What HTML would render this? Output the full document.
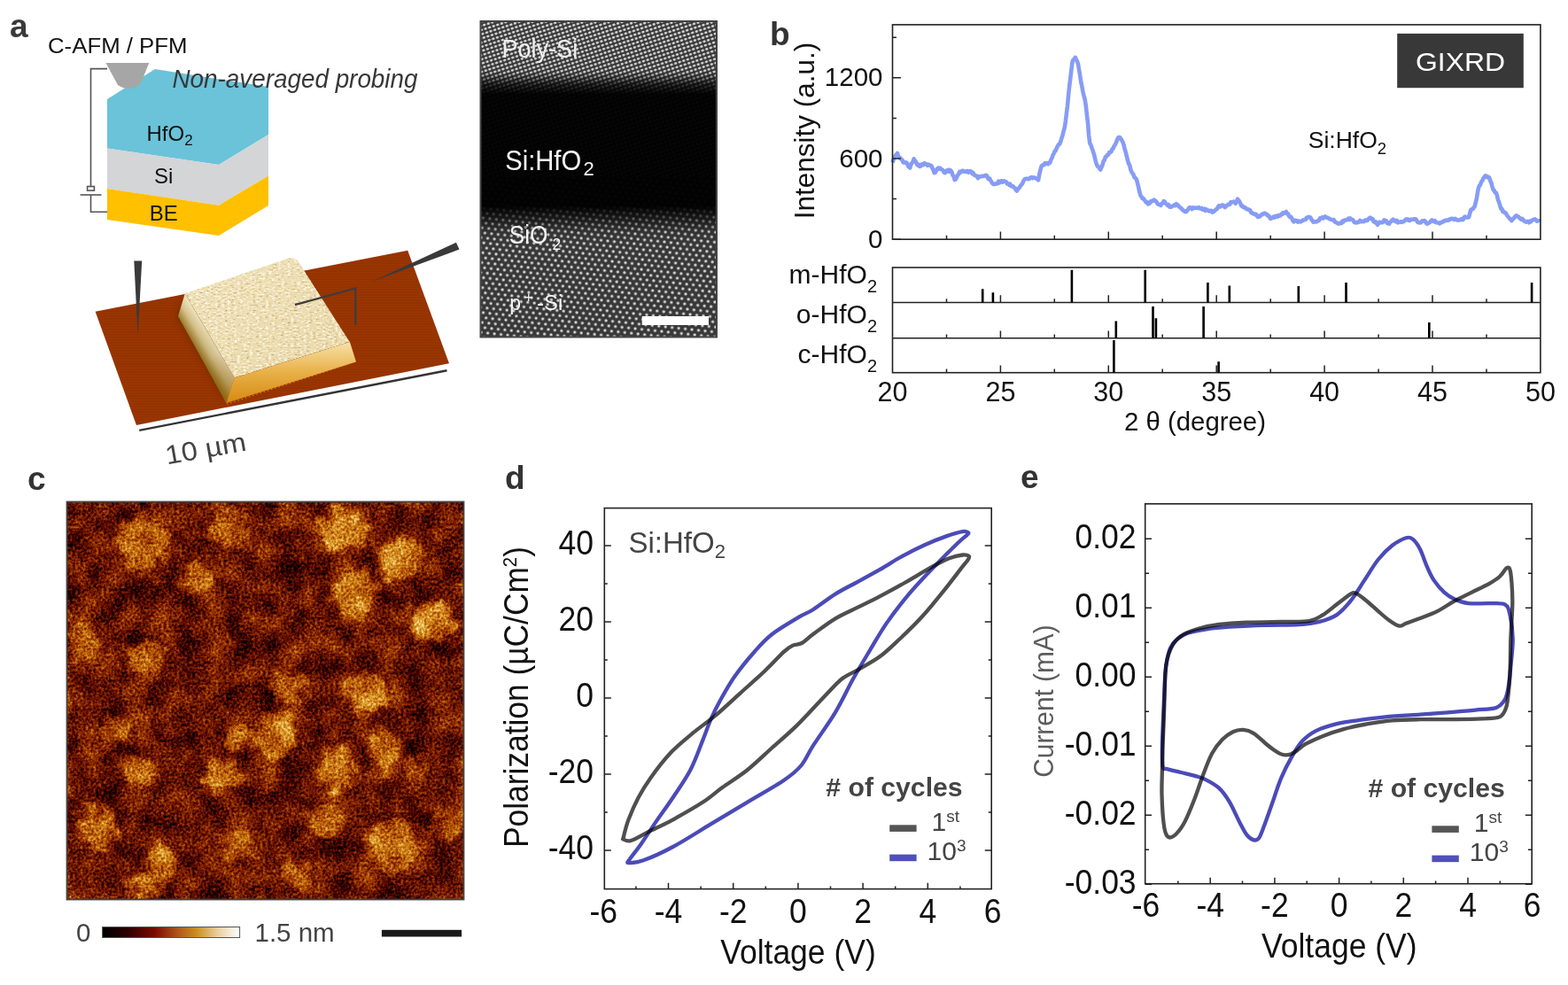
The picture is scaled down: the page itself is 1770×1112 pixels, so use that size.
<!DOCTYPE html>
<html><head><meta charset="utf-8"><title>Figure</title>
<style>
html,body{margin:0;padding:0;background:#fff;}
body{width:1770px;height:1112px;overflow:hidden;}
svg{display:block;}
text{font-family:"Liberation Sans", Arial, Helvetica, sans-serif;}
</style></head><body>
<svg width="1770" height="1112" viewBox="0 0 1770 1112">

<defs>
<filter id="blur2" x="-20%" y="-20%" width="140%" height="140%"><feGaussianBlur stdDeviation="3"/></filter>
<pattern id="brownTex" patternUnits="userSpaceOnUse" width="6" height="3">
  <rect width="6" height="3" fill="#953300"/>
  <rect y="1" width="6" height="1" fill="#9c3904" opacity="0.6"/>
</pattern>
<linearGradient id="leftFace" gradientUnits="userSpaceOnUse" x1="236.6" y1="378.8" x2="219.3" y2="388.9">
  <stop offset="0" stop-color="#f1e5c2"/><stop offset="0.5" stop-color="#d8c48e"/><stop offset="1" stop-color="#9c7a2a"/>
</linearGradient>
<linearGradient id="leftShade" gradientUnits="userSpaceOnUse" x1="205" y1="344" x2="258" y2="452">
  <stop offset="0" stop-color="#6a4a00" stop-opacity="0"/><stop offset="0.55" stop-color="#6a4a00" stop-opacity="0.12"/><stop offset="1" stop-color="#8a5a00" stop-opacity="0.55"/>
</linearGradient>
<linearGradient id="frontFace" x1="0" y1="0" x2="0" y2="1">
  <stop offset="0" stop-color="#f6e2a8"/><stop offset="0.5" stop-color="#e8b048"/><stop offset="1" stop-color="#d68a10"/>
</linearGradient>
<filter id="topF" x="0" y="0" width="100%" height="100%" color-interpolation-filters="sRGB">
  <feTurbulence type="fractalNoise" baseFrequency="0.28 0.5" numOctaves="2" seed="11" result="n"/>
  <feColorMatrix in="n" type="matrix" values="0 0 0 0 1  0 0 0 0 0.98  0 0 0 0 0.93  4 0 0 0 -2.1" result="lt"/>
  <feColorMatrix in="n" type="matrix" values="0 0 0 0 0.72  0 0 0 0 0.6  0 0 0 0 0.4  -4 0 0 0 1.5" result="dk"/>
  <feMerge result="m"><feMergeNode in="SourceGraphic"/><feMergeNode in="lt"/><feMergeNode in="dk"/></feMerge>
  <feComposite in="m" in2="SourceGraphic" operator="in"/>
</filter>
<linearGradient id="topTex" x1="0" y1="0" x2="1" y2="1">
  <stop offset="0" stop-color="#efe1b8"/><stop offset="1" stop-color="#e9d8a8"/>
</linearGradient>
<pattern id="latPoly" patternUnits="userSpaceOnUse" width="4.8" height="4.5" patternTransform="rotate(-18)">
  <rect width="4.8" height="4.5" fill="#383838"/>
  <ellipse cx="2.4" cy="2.25" rx="1.75" ry="1.25" fill="#dedede"/>
</pattern>
<pattern id="latSi" patternUnits="userSpaceOnUse" width="7.5" height="11.2" patternTransform="rotate(6)">
  <rect width="7.5" height="11.2" fill="#383838"/>
  <circle cx="1.9" cy="2.8" r="1.65" fill="#d8d8d8"/>
  <circle cx="5.65" cy="8.4" r="1.65" fill="#d8d8d8"/>
</pattern>
<linearGradient id="temBand" x1="0" y1="0" x2="0" y2="1">
  <stop offset="0" stop-color="#000" stop-opacity="0"/>
  <stop offset="0.16" stop-color="#000" stop-opacity="0.05"/>
  <stop offset="0.2" stop-color="#000" stop-opacity="0.75"/>
  <stop offset="0.23" stop-color="#000" stop-opacity="0.97"/>
  <stop offset="0.585" stop-color="#000" stop-opacity="0.97"/>
  <stop offset="0.625" stop-color="#000" stop-opacity="0.55"/>
  <stop offset="0.665" stop-color="#000" stop-opacity="0.1"/>
  <stop offset="0.7" stop-color="#000" stop-opacity="0"/>
  <stop offset="1" stop-color="#000" stop-opacity="0"/>
</linearGradient>
<clipPath id="afmClip"><rect x="76" y="567" width="447" height="448"/></clipPath>
<filter id="afmF" filterUnits="userSpaceOnUse" x="76" y="567" width="447" height="448" color-interpolation-filters="sRGB">
  <feGaussianBlur in="SourceGraphic" stdDeviation="3.5" result="patch0"/>
  <feTurbulence type="fractalNoise" baseFrequency="0.06" numOctaves="2" seed="21" result="dn"/>
  <feDisplacementMap in="patch0" in2="dn" scale="28" xChannelSelector="R" yChannelSelector="G" result="patch"/>
  <feTurbulence type="fractalNoise" baseFrequency="0.34" numOctaves="2" seed="4" result="n1"/>
  <feColorMatrix in="n1" type="matrix" values="1 0 0 0 0  1 0 0 0 0  1 0 0 0 0  0 0 0 0 1" result="g1"/>
  <feTurbulence type="fractalNoise" baseFrequency="0.035" numOctaves="2" seed="9" result="n2"/>
  <feColorMatrix in="n2" type="matrix" values="1 0 0 0 0  1 0 0 0 0  1 0 0 0 0  0 0 0 0 1" result="g2"/>
  <feComposite in="patch" in2="g1" operator="arithmetic" k1="0" k2="0.32" k3="0.68" k4="-0.09" result="h1"/>
  <feComposite in="h1" in2="g2" operator="arithmetic" k1="0" k2="1" k3="0.5" k4="-0.25" result="h"/>
  <feComponentTransfer in="h">
    <feFuncR type="table" tableValues="0.000 0.157 0.333 0.478 0.608 0.729 0.824 0.894 0.949 0.980 1.000"/>
    <feFuncG type="table" tableValues="0.000 0.000 0.031 0.118 0.227 0.376 0.533 0.690 0.824 0.933 1.000"/>
    <feFuncB type="table" tableValues="0.000 0.000 0.000 0.000 0.000 0.031 0.110 0.267 0.510 0.784 1.000"/>
    <feFuncA type="linear" slope="0" intercept="1"/>
  </feComponentTransfer>
</filter>
<linearGradient id="cbar" x1="0" y1="0" x2="1" y2="0">
  <stop offset="0" stop-color="#000"/><stop offset="0.18" stop-color="#2a0000"/><stop offset="0.38" stop-color="#7a0a00"/>
  <stop offset="0.55" stop-color="#b0561a"/><stop offset="0.68" stop-color="#c88e1c"/><stop offset="0.84" stop-color="#e8cf9e"/><stop offset="1" stop-color="#fff"/>
</linearGradient>
</defs>

<rect width="1770" height="1112" fill="#fff"/>
<text x="11" y="41.5" font-size="37" font-weight="bold" fill="#3a3a3a">a</text>
<text x="54" y="60.4" font-size="23.5" fill="#111" textLength="157.5" lengthAdjust="spacingAndGlyphs">C-AFM / PFM</text>
<polygon points="121,112 175,78 303,98 303,152 247,186 121,167.5" fill="#6AC3D9"/>
<polygon points="121,167.5 247,186 303,152 303,198.5 247,231.7 121,213" fill="#D3D5D6"/>
<polygon points="121,213 247,231.7 303,198.5 303,232 247,266 121,248" fill="#FFC000"/>
<path d="M119.5,71 L168.3,71 L159,94 Q146,105 133,96 Z" fill="#A6A6A6"/>
<g stroke="#555" stroke-width="1.6" fill="none"><polyline points="121,77.6 102.5,77.6 102.5,210.5"/><rect x="98.6" y="210.5" width="7.8" height="4.6"/><line x1="90.6" y1="220" x2="114.5" y2="220"/><polyline points="102.5,220 102.5,239.3 121,239.3"/></g>
<text x="165.5" y="158.8" font-size="24" fill="#111">HfO<tspan font-size="17" dy="5">2</tspan></text>
<text x="174" y="207" font-size="24" fill="#111">Si</text>
<text x="168.7" y="249.3" font-size="24" fill="#111">BE</text>
<text x="194.5" y="98.6" font-size="30" font-style="italic" fill="#383838" textLength="277" lengthAdjust="spacingAndGlyphs">Non-averaged probing</text>
<polygon points="107.6,351.8 460.2,282.7 507,410.3 154,479.9" fill="url(#brownTex)"/>
<polygon points="197,357 208.8,331.2 264.5,426.5 252,452" fill="#6a2a00" opacity="0.5" filter="url(#blur2)"/>
<polygon points="208.8,331.2 264.5,426.5 255.5,455 201,357" fill="url(#leftFace)"/>
<polygon points="208.8,331.2 264.5,426.5 255.5,455 201,357" fill="url(#leftShade)"/>
<polygon points="264.5,426.5 394.9,386 402,408.5 255.5,455" fill="url(#frontFace)"/>
<path d="M208.8,331.2 L325,291.5 Q332,289.5 336,294 L394.9,386 L264.5,426.5 Z" fill="url(#topTex)" filter="url(#topF)"/>
<line x1="256" y1="456.2" x2="401" y2="408.6" stroke="#f08a20" stroke-width="1.2" stroke-dasharray="1.2 3.2"/>
<line x1="157.2" y1="485.9" x2="504.5" y2="418.2" stroke="#333" stroke-width="2.4"/>
<polygon points="151.3,294.6 160.2,294.6 155.6,379.3" fill="#3a3a3a"/>
<polygon points="514.9,273.7 518.5,281.6 420.7,317.5" fill="#3a3a3a"/>
<polyline points="333,344.1 401.3,325.5 401.3,366.4" fill="none" stroke="#3d3d3d" stroke-width="2.2"/>
<text x="188.5" y="524.5" font-size="30" fill="#444" transform="rotate(-10 188.5 524.5)" textLength="92" lengthAdjust="spacingAndGlyphs">10 µm</text>
<rect x="542" y="24" width="267" height="357" fill="url(#latPoly)"/>
<rect x="542" y="200" width="267" height="181" fill="url(#latSi)"/>
<rect x="542" y="24" width="267" height="357" fill="url(#temBand)"/>
<rect x="542.5" y="24" width="266.5" height="356.5" fill="none" stroke="#444" stroke-width="2"/>
<text x="566.4" y="65.3" font-size="29" fill="#eee" textLength="85.8" lengthAdjust="spacingAndGlyphs">Poly-Si</text>
<text x="570.2" y="191.5" font-size="32" fill="#f6f6f6" textLength="86" lengthAdjust="spacingAndGlyphs">Si:HfO</text>
<text x="658.4" y="198.3" font-size="22" fill="#f6f6f6">2</text>
<text x="574.7" y="274.7" font-size="29" fill="#f6f6f6" textLength="43.7" lengthAdjust="spacingAndGlyphs">SiO</text>
<text x="623.6" y="281.7" font-size="17.5" fill="#f6f6f6">2</text>
<text x="575.3" y="350.3" font-size="23" fill="#f6f6f6">p</text>
<text x="591.8" y="340.5" font-size="17" fill="#f6f6f6">+</text>
<text x="606" y="350.3" font-size="23" fill="#f6f6f6" textLength="29.2" lengthAdjust="spacingAndGlyphs">-Si</text>
<rect x="724.7" y="357" width="75.3" height="10" fill="#fff"/>
<text x="869" y="51" font-size="37" font-weight="bold" fill="#333">b</text>
<path d="M1007.5,183.6 L1008.6,180.5 L1009.7,177.5 L1010.8,175.5 L1011.9,174.6 L1013.0,172.9 L1014.1,176.5 L1015.2,177.5 L1016.3,178.3 L1017.4,180.0 L1018.5,180.5 L1019.6,183.3 L1020.7,183.0 L1021.8,183.7 L1022.9,183.4 L1024.0,184.4 L1025.1,187.4 L1026.2,188.7 L1027.2,189.5 L1028.3,185.8 L1029.4,183.9 L1030.5,182.9 L1031.6,179.3 L1032.7,181.6 L1033.8,182.4 L1034.9,185.2 L1036.0,186.5 L1037.1,185.8 L1038.2,187.9 L1039.3,187.5 L1040.4,185.4 L1041.5,185.2 L1042.6,186.1 L1043.7,184.2 L1044.8,185.3 L1045.9,185.4 L1047.0,186.8 L1048.1,185.6 L1049.2,186.6 L1050.3,186.6 L1051.4,187.2 L1052.5,189.7 L1053.6,192.1 L1054.7,195.1 L1055.8,194.6 L1056.9,192.5 L1058.0,190.6 L1059.1,189.6 L1060.2,190.7 L1061.3,189.7 L1062.4,190.9 L1063.5,191.5 L1064.5,192.1 L1065.6,194.7 L1066.7,195.1 L1067.8,193.9 L1068.9,192.5 L1070.0,193.4 L1071.1,191.6 L1072.2,193.8 L1073.3,192.5 L1074.4,194.2 L1075.5,197.8 L1076.6,199.1 L1077.7,203.1 L1078.8,202.3 L1079.9,200.4 L1081.0,197.9 L1082.1,196.6 L1083.2,193.9 L1084.3,194.7 L1085.4,193.4 L1086.5,192.9 L1087.6,192.8 L1088.7,193.9 L1089.8,193.8 L1090.9,193.4 L1092.0,193.0 L1093.1,194.6 L1094.2,193.3 L1095.3,193.3 L1096.4,193.6 L1097.5,196.2 L1098.6,195.1 L1099.7,197.7 L1100.8,198.1 L1101.9,198.5 L1102.9,198.9 L1104.0,201.1 L1105.1,199.2 L1106.2,199.4 L1107.3,199.2 L1108.4,198.9 L1109.5,198.9 L1110.6,198.8 L1111.7,198.4 L1112.8,197.8 L1113.9,198.1 L1115.0,200.9 L1116.1,202.2 L1117.2,201.6 L1118.3,203.9 L1119.4,205.6 L1120.5,207.3 L1121.6,208.0 L1122.7,207.7 L1123.8,207.8 L1124.9,207.1 L1126.0,207.2 L1127.1,204.7 L1128.2,206.3 L1129.3,205.1 L1130.4,204.2 L1131.5,205.7 L1132.6,204.6 L1133.7,204.3 L1134.8,205.1 L1135.9,205.3 L1137.0,207.4 L1138.1,207.4 L1139.2,208.7 L1140.2,207.8 L1141.3,209.9 L1142.4,210.5 L1143.5,210.2 L1144.6,211.5 L1145.7,212.3 L1146.8,214.5 L1147.9,215.5 L1149.0,213.4 L1150.1,212.3 L1151.2,211.1 L1152.3,209.2 L1153.4,208.3 L1154.5,206.5 L1155.6,203.8 L1156.7,202.5 L1157.8,201.8 L1158.9,201.8 L1160.0,201.9 L1161.1,202.2 L1162.2,201.5 L1163.3,200.4 L1164.4,200.1 L1165.5,201.1 L1166.6,200.3 L1167.7,200.6 L1168.8,201.1 L1169.9,201.6 L1171.0,201.9 L1172.1,203.3 L1173.2,197.1 L1174.3,192.5 L1175.4,188.2 L1176.5,186.7 L1177.6,186.1 L1178.6,186.1 L1179.7,184.1 L1180.8,184.4 L1181.9,184.4 L1183.0,185.3 L1184.1,183.9 L1185.2,183.8 L1186.3,180.5 L1187.4,178.5 L1188.5,175.3 L1189.6,173.2 L1190.7,170.7 L1191.8,169.7 L1192.9,167.0 L1194.0,164.8 L1195.1,163.1 L1196.2,162.7 L1197.3,159.9 L1198.4,156.0 L1199.5,152.6 L1200.6,148.2 L1201.7,144.4 L1202.8,137.1 L1203.9,128.2 L1205.0,119.5 L1206.1,107.6 L1207.2,97.0 L1208.3,88.1 L1209.4,78.8 L1210.5,69.9 L1211.6,67.4 L1212.7,67.0 L1213.8,64.8 L1214.9,67.3 L1215.9,69.1 L1217.0,72.2 L1218.1,78.8 L1219.2,85.5 L1220.3,92.8 L1221.4,97.8 L1222.5,104.0 L1223.6,108.4 L1224.7,112.4 L1225.8,119.4 L1226.9,129.8 L1228.0,138.8 L1229.1,152.8 L1230.2,161.7 L1231.3,163.5 L1232.4,166.7 L1233.5,169.8 L1234.6,173.2 L1235.7,177.2 L1236.8,181.8 L1237.9,185.5 L1239.0,187.6 L1240.1,188.4 L1241.2,190.3 L1242.3,191.5 L1243.4,188.6 L1244.5,186.4 L1245.6,182.0 L1246.7,181.0 L1247.8,177.4 L1248.9,176.5 L1250.0,175.1 L1251.1,174.6 L1252.2,172.0 L1253.3,171.8 L1254.3,171.4 L1255.4,168.5 L1256.5,167.8 L1257.6,165.0 L1258.7,163.5 L1259.8,161.1 L1260.9,158.5 L1262.0,155.8 L1263.1,154.9 L1264.2,155.2 L1265.3,156.8 L1266.4,158.5 L1267.5,160.5 L1268.6,163.9 L1269.7,168.4 L1270.8,172.0 L1271.9,176.4 L1273.0,181.2 L1274.1,184.8 L1275.2,186.6 L1276.3,191.4 L1277.4,194.1 L1278.5,195.7 L1279.6,197.5 L1280.7,200.3 L1281.8,201.1 L1282.9,202.4 L1284.0,206.5 L1285.1,210.9 L1286.2,215.9 L1287.3,220.3 L1288.4,221.8 L1289.5,224.1 L1290.6,223.9 L1291.6,225.1 L1292.7,226.9 L1293.8,228.6 L1294.9,228.2 L1296.0,230.3 L1297.1,229.8 L1298.2,229.2 L1299.3,227.0 L1300.4,227.2 L1301.5,226.8 L1302.6,225.6 L1303.7,226.5 L1304.8,226.9 L1305.9,228.7 L1307.0,230.5 L1308.1,231.0 L1309.2,231.0 L1310.3,231.8 L1311.4,229.9 L1312.5,229.5 L1313.6,227.2 L1314.7,227.5 L1315.8,229.6 L1316.9,230.6 L1318.0,231.8 L1319.1,231.0 L1320.2,233.5 L1321.3,233.8 L1322.4,233.5 L1323.5,232.6 L1324.6,232.2 L1325.7,231.3 L1326.8,232.1 L1327.9,230.2 L1329.0,231.2 L1330.0,231.8 L1331.1,233.3 L1332.2,234.4 L1333.3,235.0 L1334.4,236.3 L1335.5,237.6 L1336.6,237.9 L1337.7,239.1 L1338.8,239.3 L1339.9,238.0 L1341.0,236.6 L1342.1,234.8 L1343.2,234.1 L1344.3,234.8 L1345.4,236.0 L1346.5,234.3 L1347.6,235.1 L1348.7,234.8 L1349.8,234.5 L1350.9,234.7 L1352.0,235.0 L1353.1,234.1 L1354.2,235.3 L1355.3,235.6 L1356.4,234.9 L1357.5,236.6 L1358.6,236.7 L1359.7,235.8 L1360.8,237.8 L1361.9,236.4 L1363.0,237.0 L1364.1,237.9 L1365.2,238.5 L1366.3,237.7 L1367.3,237.7 L1368.4,239.7 L1369.5,239.3 L1370.6,238.5 L1371.7,237.4 L1372.8,236.5 L1373.9,235.6 L1375.0,233.5 L1376.1,232.2 L1377.2,233.5 L1378.3,233.0 L1379.4,231.5 L1380.5,231.6 L1381.6,232.3 L1382.7,234.1 L1383.8,233.0 L1384.9,232.2 L1386.0,231.1 L1387.1,230.6 L1388.2,230.9 L1389.3,228.2 L1390.4,228.6 L1391.5,228.0 L1392.6,227.6 L1393.7,228.4 L1394.8,229.7 L1395.9,227.7 L1397.0,224.7 L1398.1,226.3 L1399.2,227.4 L1400.3,229.9 L1401.4,232.5 L1402.5,232.3 L1403.6,234.0 L1404.7,234.4 L1405.7,234.4 L1406.8,235.6 L1407.9,236.4 L1409.0,236.3 L1410.1,236.8 L1411.2,237.5 L1412.3,240.0 L1413.4,240.3 L1414.5,241.3 L1415.6,241.3 L1416.7,242.1 L1417.8,241.8 L1418.9,243.6 L1420.0,244.9 L1421.1,243.8 L1422.2,244.4 L1423.3,242.8 L1424.4,242.6 L1425.5,241.2 L1426.6,241.4 L1427.7,240.7 L1428.8,241.3 L1429.9,241.8 L1431.0,243.5 L1432.1,243.6 L1433.2,245.2 L1434.3,246.9 L1435.4,246.4 L1436.5,245.7 L1437.6,244.6 L1438.7,245.5 L1439.8,244.0 L1440.9,243.8 L1442.0,244.6 L1443.0,243.1 L1444.1,243.8 L1445.2,243.3 L1446.3,241.8 L1447.4,242.0 L1448.5,240.2 L1449.6,240.5 L1450.7,240.4 L1451.8,238.9 L1452.9,241.3 L1454.0,241.2 L1455.1,244.0 L1456.2,245.2 L1457.3,244.9 L1458.4,246.8 L1459.5,249.2 L1460.6,250.4 L1461.7,248.6 L1462.8,249.3 L1463.9,249.1 L1465.0,250.6 L1466.1,249.6 L1467.2,250.2 L1468.3,250.4 L1469.4,249.7 L1470.5,248.5 L1471.6,248.6 L1472.7,248.0 L1473.8,248.0 L1474.9,245.9 L1476.0,245.8 L1477.1,244.9 L1478.2,245.2 L1479.3,245.5 L1480.4,247.7 L1481.4,249.0 L1482.5,250.6 L1483.6,250.3 L1484.7,250.4 L1485.8,250.4 L1486.9,250.0 L1488.0,249.0 L1489.1,248.7 L1490.2,246.3 L1491.3,246.6 L1492.4,245.4 L1493.5,246.4 L1494.6,245.1 L1495.7,244.4 L1496.8,245.2 L1497.9,245.8 L1499.0,245.9 L1500.1,246.9 L1501.2,247.1 L1502.3,247.7 L1503.4,247.9 L1504.5,248.5 L1505.6,248.1 L1506.7,250.3 L1507.8,250.8 L1508.9,251.4 L1510.0,252.3 L1511.1,252.6 L1512.2,252.4 L1513.3,251.4 L1514.4,251.9 L1515.5,249.6 L1516.6,250.3 L1517.7,248.6 L1518.7,248.7 L1519.8,248.3 L1520.9,248.2 L1522.0,246.8 L1523.1,248.1 L1524.2,246.4 L1525.3,247.7 L1526.4,247.8 L1527.5,248.6 L1528.6,250.8 L1529.7,251.2 L1530.8,251.5 L1531.9,250.9 L1533.0,251.1 L1534.1,250.3 L1535.2,249.0 L1536.3,250.2 L1537.4,250.2 L1538.5,249.8 L1539.6,250.1 L1540.7,248.9 L1541.8,248.4 L1542.9,249.1 L1544.0,248.3 L1545.1,246.9 L1546.2,245.8 L1547.3,245.9 L1548.4,247.3 L1549.5,247.1 L1550.6,250.1 L1551.7,250.9 L1552.8,250.3 L1553.9,252.0 L1555.0,253.7 L1556.1,252.3 L1557.1,250.8 L1558.2,251.3 L1559.3,251.1 L1560.4,251.1 L1561.5,250.6 L1562.6,248.3 L1563.7,249.4 L1564.8,249.3 L1565.9,252.0 L1567.0,252.4 L1568.1,252.6 L1569.2,250.6 L1570.3,250.2 L1571.4,248.6 L1572.5,247.7 L1573.6,248.5 L1574.7,249.7 L1575.8,250.3 L1576.9,249.0 L1578.0,251.3 L1579.1,250.9 L1580.2,250.8 L1581.3,250.2 L1582.4,250.8 L1583.5,250.0 L1584.6,250.1 L1585.7,248.9 L1586.8,247.7 L1587.9,248.2 L1589.0,247.5 L1590.1,248.8 L1591.2,249.1 L1592.3,247.9 L1593.4,247.9 L1594.4,247.6 L1595.5,247.9 L1596.6,247.2 L1597.7,247.2 L1598.8,248.0 L1599.9,250.4 L1601.0,251.3 L1602.1,251.2 L1603.2,251.5 L1604.3,250.8 L1605.4,249.4 L1606.5,249.7 L1607.6,249.0 L1608.7,249.7 L1609.8,251.6 L1610.9,252.7 L1612.0,252.4 L1613.1,251.3 L1614.2,250.9 L1615.3,249.4 L1616.4,248.4 L1617.5,249.4 L1618.6,250.2 L1619.7,249.3 L1620.8,251.1 L1621.9,251.2 L1623.0,251.4 L1624.1,251.6 L1625.2,252.4 L1626.3,251.4 L1627.4,251.3 L1628.5,250.0 L1629.6,250.1 L1630.7,249.0 L1631.7,249.2 L1632.8,248.6 L1633.9,248.7 L1635.0,248.7 L1636.1,247.6 L1637.2,247.6 L1638.3,246.7 L1639.4,246.9 L1640.5,247.0 L1641.6,248.0 L1642.7,246.9 L1643.8,247.8 L1644.9,248.4 L1646.0,248.6 L1647.1,248.4 L1648.2,248.3 L1649.3,247.4 L1650.4,248.3 L1651.5,248.1 L1652.6,245.4 L1653.7,244.6 L1654.8,245.4 L1655.9,245.5 L1657.0,245.5 L1658.1,245.1 L1659.2,240.8 L1660.3,237.0 L1661.4,236.3 L1662.5,236.0 L1663.6,234.4 L1664.7,233.0 L1665.8,228.4 L1666.9,224.0 L1668.0,217.0 L1669.1,211.8 L1670.1,209.5 L1671.2,208.4 L1672.3,205.0 L1673.4,203.8 L1674.5,201.0 L1675.6,200.0 L1676.7,198.4 L1677.8,198.7 L1678.9,200.2 L1680.0,199.8 L1681.1,200.5 L1682.2,203.8 L1683.3,206.2 L1684.4,210.4 L1685.5,214.0 L1686.6,215.0 L1687.7,217.2 L1688.8,217.7 L1689.9,220.5 L1691.0,225.7 L1692.1,228.1 L1693.2,231.8 L1694.3,235.5 L1695.4,235.8 L1696.5,238.9 L1697.6,238.9 L1698.7,240.2 L1699.8,240.5 L1700.9,242.7 L1702.0,244.3 L1703.1,245.5 L1704.2,247.0 L1705.3,247.5 L1706.4,249.2 L1707.4,247.3 L1708.5,247.0 L1709.6,245.3 L1710.7,244.3 L1711.8,243.3 L1712.9,244.2 L1714.0,244.7 L1715.1,245.8 L1716.2,246.8 L1717.3,247.9 L1718.4,247.0 L1719.5,248.2 L1720.6,249.7 L1721.7,250.0 L1722.8,250.7 L1723.9,249.9 L1725.0,250.1 L1726.1,251.3 L1727.2,249.6 L1728.3,250.1 L1729.4,248.8 L1730.5,248.0 L1731.6,248.0 L1732.7,247.3 L1733.8,248.5 L1734.9,249.7 L1736.0,249.0 L1737.1,249.2 L1738.2,250.4" fill="none" stroke="#879CF5" stroke-width="4.6" stroke-linejoin="round"/>
<rect x="1007.5" y="27.9" width="731.4" height="242.3" fill="none" stroke="#222" stroke-width="1.6"/>
<path d="M1007.5,270.2 h9.4 M1007.5,224.6 h4.4 M1007.5,179.0 h9.4 M1007.5,133.4 h4.4 M1007.5,87.8 h9.4 M1007.5,42.2 h4.4 M1068.5,270.2 v-4.4 M1129.4,270.2 v-8.6 M1190.3,270.2 v-4.4 M1251.3,270.2 v-8.6 M1312.2,270.2 v-4.4 M1373.2,270.2 v-8.6 M1434.2,270.2 v-4.4 M1495.1,270.2 v-8.6 M1556.1,270.2 v-4.4 M1617.0,270.2 v-8.6 M1678.0,270.2 v-4.4" stroke="#222" stroke-width="1.5" fill="none"/>
<text x="996.5" y="279.8" font-size="29.5" text-anchor="end" fill="#111">0</text>
<text x="996.5" y="188.6" font-size="29.5" text-anchor="end" fill="#111">600</text>
<text x="996.5" y="97.4" font-size="29.5" text-anchor="end" fill="#111">1200</text>
<text transform="translate(919,147.5) rotate(-90)" font-size="31.5" text-anchor="middle" fill="#111">Intensity (a.u.)</text>
<rect x="1577.2" y="37.9" width="142.6" height="61.3" fill="#383838"/>
<text x="1598" y="80.4" font-size="30" fill="#fff" textLength="101" lengthAdjust="spacingAndGlyphs">GIXRD</text>
<text x="1476.8" y="167.2" font-size="26.5" fill="#111">Si:HfO<tspan font-size="18.5" dy="7">2</tspan></text>
<rect x="1007.5" y="302.0" width="731.4" height="118.7" fill="none" stroke="#222" stroke-width="1.6"/>
<path d="M1007.5,341.5 H1738.9 M1007.5,381.7 H1738.9" stroke="#222" stroke-width="1.6"/>
<path d="M1068.5,341.5 v-4.3 M1129.4,341.5 v-8.3 M1190.3,341.5 v-4.3 M1251.3,341.5 v-8.3 M1312.2,341.5 v-4.3 M1373.2,341.5 v-8.3 M1434.2,341.5 v-4.3 M1495.1,341.5 v-8.3 M1556.1,341.5 v-4.3 M1617.0,341.5 v-8.3 M1678.0,341.5 v-4.3 M1068.5,381.7 v-4.3 M1129.4,381.7 v-8.3 M1190.3,381.7 v-4.3 M1251.3,381.7 v-8.3 M1312.2,381.7 v-4.3 M1373.2,381.7 v-8.3 M1434.2,381.7 v-4.3 M1495.1,381.7 v-8.3 M1556.1,381.7 v-4.3 M1617.0,381.7 v-8.3 M1678.0,381.7 v-4.3 M1068.5,420.7 v-4.3 M1129.4,420.7 v-8.3 M1190.3,420.7 v-4.3 M1251.3,420.7 v-8.3 M1312.2,420.7 v-4.3 M1373.2,420.7 v-8.3 M1434.2,420.7 v-4.3 M1495.1,420.7 v-8.3 M1556.1,420.7 v-4.3 M1617.0,420.7 v-8.3 M1678.0,420.7 v-4.3" stroke="#222" stroke-width="1.5" fill="none"/>
<path d="M1109.2,341.5 V326.3 M1120.9,341.5 V330.2 M1209.9,341.5 V304.7 M1292.7,341.5 V304.7 M1363.4,341.5 V319.0 M1387.8,341.5 V322.5 M1465.8,341.5 V323.0 M1519.5,341.5 V319.0 M1729.1,341.5 V319.0 M1259.8,381.7 V362.4 M1301.5,381.7 V345.9 M1304.9,381.7 V359.3 M1358.6,381.7 V345.9 M1613.3,381.7 V363.9 M1257.4,420.7 V384.0 M1375.6,420.7 V408.3" stroke="#000" stroke-width="2.6" fill="none"/>
<text x="990" y="320.1" font-size="30" text-anchor="end" fill="#111">m-HfO<tspan font-size="20" dy="10">2</tspan></text>
<text x="990" y="365.1" font-size="30" text-anchor="end" fill="#111">o-HfO<tspan font-size="20" dy="10">2</tspan></text>
<text x="990" y="409.6" font-size="30" text-anchor="end" fill="#111">c-HfO<tspan font-size="20" dy="10">2</tspan></text>
<text x="1007.5" y="452.8" font-size="30.5" text-anchor="middle" fill="#111">20</text>
<text x="1129.4" y="452.8" font-size="30.5" text-anchor="middle" fill="#111">25</text>
<text x="1251.3" y="452.8" font-size="30.5" text-anchor="middle" fill="#111">30</text>
<text x="1373.2" y="452.8" font-size="30.5" text-anchor="middle" fill="#111">35</text>
<text x="1495.1" y="452.8" font-size="30.5" text-anchor="middle" fill="#111">40</text>
<text x="1617.0" y="452.8" font-size="30.5" text-anchor="middle" fill="#111">45</text>
<text x="1738.9" y="452.8" font-size="30.5" text-anchor="middle" fill="#111">50</text>
<text x="1268.9" y="486.4" font-size="29.4" fill="#111">2 θ (degree)</text>
<text x="570" y="552" font-size="37" font-weight="bold" fill="#333">d</text>
<path d="M703.9,947.6 C705.3,948.3 707.6,950.4 712.3,949.0 C716.9,947.6 723.9,943.2 731.8,939.2 C739.7,935.2 749.5,930.9 759.7,925.3 C769.9,919.7 783.8,911.8 793.1,905.8 C802.4,899.8 807.0,895.1 815.4,889.1 C823.8,883.1 834.0,876.9 843.3,869.5 C852.6,862.1 861.9,852.9 871.2,844.5 C880.5,836.1 889.2,829.1 899.1,819.4 C909.0,809.7 921.8,795.4 930.4,786.5 C939.0,777.6 944.2,771.3 950.5,766.3 C956.8,761.3 961.1,760.5 968.2,756.3 C975.4,752.1 985.4,747.0 993.4,741.1 C1001.4,735.2 1008.0,728.5 1016.0,721.0 C1024.0,713.5 1032.8,705.0 1041.2,695.8 C1049.6,686.6 1059.3,674.4 1066.4,665.6 C1073.5,656.8 1079.6,648.6 1084.0,642.9 C1088.4,637.2 1091.3,634.1 1092.9,631.6 C1094.5,629.1 1094.6,628.6 1093.6,627.8 C1092.5,626.9 1090.3,626.1 1086.6,626.5 C1082.9,626.9 1077.4,628.0 1071.5,630.3 C1065.6,632.6 1059.7,635.8 1051.3,640.4 C1042.9,645.0 1030.8,652.5 1021.1,658.0 C1011.5,663.5 1002.2,668.5 993.4,673.1 C984.6,677.7 976.6,681.5 968.2,685.7 C959.8,689.9 951.4,693.2 943.0,698.3 C934.6,703.3 924.1,711.4 917.8,716.0 C911.5,720.6 909.0,723.9 905.2,726.0 C901.4,728.1 898.5,727.0 895.1,728.6 C891.8,730.2 890.5,730.8 885.1,735.7 C879.7,740.6 871.1,750.1 862.8,758.0 C854.4,765.9 844.3,774.7 835.0,783.1 C825.7,791.5 815.9,800.8 807.1,808.2 C798.3,815.6 790.4,820.7 782.0,827.7 C773.6,834.7 764.8,841.6 756.9,850.0 C749.0,858.4 740.6,869.5 734.6,877.9 C728.6,886.3 724.9,892.3 720.7,900.2 C716.5,908.1 712.3,917.9 709.5,925.3 C706.7,932.7 704.8,941.1 703.9,944.8 C703.0,948.5 702.5,946.9 703.9,947.6 Z" fill="none" stroke="#4F4F4F" stroke-width="4.3" stroke-linejoin="round"/>
<path d="M709.5,974.1 C712.0,974.3 717.8,974.3 726.2,971.3 C734.6,968.3 747.2,962.7 759.7,956.0 C772.2,949.3 787.6,939.3 801.5,930.9 C815.4,922.5 829.4,914.2 843.3,905.8 C857.2,897.4 874.9,887.7 885.1,880.7 C895.3,873.7 899.2,870.5 904.6,864.0 C910.0,857.5 911.4,851.9 917.8,841.9 C924.2,831.9 935.5,816.7 943.0,804.1 C950.5,791.5 956.8,777.6 963.1,766.3 C969.4,755.0 974.5,746.6 980.8,736.1 C987.1,725.6 993.4,714.3 1000.9,703.4 C1008.4,692.5 1016.9,681.5 1026.1,670.6 C1035.3,659.7 1047.1,647.5 1056.3,637.9 C1065.5,628.2 1075.6,618.4 1081.5,612.7 C1087.4,607.0 1089.7,605.8 1091.6,603.9 C1093.5,602.0 1093.7,601.9 1092.9,601.3 C1092.1,600.7 1090.6,599.5 1086.6,600.1 C1082.6,600.7 1076.1,602.6 1068.9,605.1 C1061.8,607.6 1052.1,611.4 1043.7,615.2 C1035.3,619.0 1027.0,623.2 1018.6,627.8 C1010.2,632.4 1001.8,638.1 993.4,642.9 C985.0,647.7 976.6,652.2 968.2,656.8 C959.8,661.4 951.4,665.4 943.0,670.6 C934.6,675.8 924.7,683.9 917.8,688.2 C910.9,692.6 909.6,692.0 901.8,696.7 C894.0,701.4 879.6,709.7 871.2,716.2 C862.9,722.7 858.7,727.8 851.7,735.7 C844.7,743.6 835.9,754.3 829.4,763.6 C822.9,772.9 817.0,783.6 812.6,791.5 C808.2,799.4 806.1,803.6 802.9,811.0 C799.6,818.4 797.0,826.4 793.1,836.1 C789.2,845.9 784.8,858.8 779.2,869.5 C773.6,880.2 766.2,890.4 759.7,900.2 C753.2,910.0 746.2,919.3 740.2,928.1 C734.2,936.9 728.3,946.2 723.4,953.2 C718.5,960.2 713.2,966.4 710.9,969.9 C708.6,973.4 707.0,973.9 709.5,974.1 Z" fill="none" stroke="#4B4BB8" stroke-width="4.3" stroke-linejoin="round" style="mix-blend-mode:multiply"/>
<rect x="682.3" y="573.6" width="436.9" height="430.0" fill="none" stroke="#222" stroke-width="1.6"/>
<path d="M682.3,959.9 h7.5 M1119.2,959.9 h-7.5 M682.3,916.9 h3.5 M1119.2,916.9 h-3.5 M682.3,873.9 h7.5 M1119.2,873.9 h-7.5 M682.3,830.9 h3.5 M1119.2,830.9 h-3.5 M682.3,787.9 h7.5 M1119.2,787.9 h-7.5 M682.3,744.9 h3.5 M1119.2,744.9 h-3.5 M682.3,701.9 h7.5 M1119.2,701.9 h-7.5 M682.3,658.9 h3.5 M1119.2,658.9 h-3.5 M682.3,615.9 h7.5 M1119.2,615.9 h-7.5 M717.9,1003.6 v-3.2 M754.5,1003.6 v-6.9 M791.1,1003.6 v-3.2 M827.7,1003.6 v-6.9 M864.3,1003.6 v-3.2 M900.9,1003.6 v-6.9 M937.5,1003.6 v-3.2 M974.1,1003.6 v-6.9 M1010.7,1003.6 v-3.2 M1047.3,1003.6 v-6.9 M1083.9,1003.6 v-3.2" stroke="#222" stroke-width="1.5" fill="none"/>
<text transform="translate(670.0,626.4) scale(1,1.070)" font-size="35.5" text-anchor="end" fill="#111">40</text>
<text transform="translate(670.0,712.4) scale(1,1.070)" font-size="35.5" text-anchor="end" fill="#111">20</text>
<text transform="translate(670.0,798.4) scale(1,1.070)" font-size="35.5" text-anchor="end" fill="#111">0</text>
<text transform="translate(670.0,884.4) scale(1,1.070)" font-size="35.5" text-anchor="end" fill="#111">-20</text>
<text transform="translate(670.0,970.4) scale(1,1.070)" font-size="35.5" text-anchor="end" fill="#111">-40</text>
<text transform="translate(681.3,1041.5) scale(1,1.070)" font-size="35.5" text-anchor="middle" fill="#111">-6</text>
<text transform="translate(754.5,1041.5) scale(1,1.070)" font-size="35.5" text-anchor="middle" fill="#111">-4</text>
<text transform="translate(827.7,1041.5) scale(1,1.070)" font-size="35.5" text-anchor="middle" fill="#111">-2</text>
<text transform="translate(900.9,1041.5) scale(1,1.070)" font-size="35.5" text-anchor="middle" fill="#111">0</text>
<text transform="translate(974.1,1041.5) scale(1,1.070)" font-size="35.5" text-anchor="middle" fill="#111">2</text>
<text transform="translate(1047.3,1041.5) scale(1,1.070)" font-size="35.5" text-anchor="middle" fill="#111">4</text>
<text transform="translate(1120.5,1041.5) scale(1,1.070)" font-size="35.5" text-anchor="middle" fill="#111">6</text>
<text transform="translate(813.2,1088.4) scale(1,1.100)" font-size="35.5" text-anchor="start" fill="#111">Voltage (V)</text>
<text transform="translate(596,957) rotate(-90)" font-size="38" fill="#111" textLength="340" lengthAdjust="spacingAndGlyphs">Polarization (µC/Cm<tspan font-size="22" dy="-13">2</tspan><tspan dy="13">)</tspan></text>
<text x="709.5" y="623.8" font-size="33" fill="#444">Si:HfO<tspan font-size="22" dy="6.6">2</tspan></text>
<text x="932.3" y="898.6" font-size="30" font-weight="bold" fill="#444" textLength="154.3" lengthAdjust="spacingAndGlyphs">#&#160;of cycles</text>
<rect x="1004.2" y="931.3" width="30.4" height="7.6" fill="#555"/>
<rect x="1004.2" y="964.6" width="30.4" height="7.6" fill="#5050B8"/>
<text x="1051.5" y="937.8" font-size="30" fill="#444">1<tspan font-size="19" dy="-10">st</tspan></text>
<text x="1046.6" y="970.5" font-size="30" fill="#444">10<tspan font-size="19" dy="-9.5">3</tspan></text>
<text x="1152" y="551" font-size="37" font-weight="bold" fill="#333">e</text>
<path d="M1311.9,870.0 C1312.1,860.3 1312.3,850.5 1312.7,838.8 C1313.1,827.0 1313.8,812.7 1314.2,799.6 C1314.7,786.6 1314.9,769.7 1315.4,760.5 C1315.9,751.4 1316.4,749.5 1317.4,744.9 C1318.4,740.3 1319.7,736.8 1321.3,733.2 C1322.9,729.6 1324.5,726.3 1327.2,723.4 C1329.8,720.5 1332.7,717.8 1336.9,715.6 C1341.2,713.3 1346.1,711.5 1352.6,709.7 C1359.1,707.9 1366.9,706.2 1376.0,705.0 C1385.2,703.8 1395.6,703.2 1407.3,702.7 C1419.1,702.1 1434.7,702.1 1446.4,701.9 C1458.2,701.6 1469.9,702.4 1477.7,701.1 C1485.5,699.8 1488.1,697.2 1493.4,694.1 C1498.6,690.9 1503.8,686.2 1509.0,682.3 C1514.2,678.4 1521.1,672.7 1524.6,670.6 C1528.2,668.5 1527.9,668.8 1530.5,669.8 C1533.1,670.8 1536.1,673.1 1540.3,676.5 C1544.5,679.8 1551.4,686.2 1555.9,690.1 C1560.5,694.1 1563.8,697.2 1567.7,699.9 C1571.6,702.7 1576.1,705.9 1579.4,706.6 C1582.7,707.2 1583.3,705.3 1587.2,703.8 C1591.1,702.4 1597.0,700.2 1602.9,698.0 C1608.7,695.7 1615.9,693.4 1622.4,690.1 C1628.9,686.9 1635.5,682.0 1642.0,678.4 C1648.5,674.8 1655.0,671.9 1661.5,668.6 C1668.0,665.4 1675.9,661.8 1681.1,658.9 C1686.3,655.9 1689.6,654.0 1692.8,651.0 C1696.1,648.1 1698.7,642.6 1700.6,641.3 C1702.6,640.0 1703.6,640.3 1704.5,643.2 C1705.5,646.1 1706.0,652.3 1706.5,658.9 C1707.0,665.4 1707.5,671.9 1707.3,682.3 C1707.1,692.8 1705.8,708.4 1705.3,721.4 C1704.9,734.5 1705.0,750.1 1704.5,760.5 C1704.1,771.0 1703.4,777.5 1702.6,784.0 C1701.8,790.5 1701.5,795.4 1699.9,799.6 C1698.2,803.9 1697.2,807.5 1692.8,809.4 C1688.4,811.4 1681.7,810.9 1673.3,811.4 C1664.8,811.8 1653.7,812.0 1642.0,812.2 C1630.2,812.3 1614.6,812.0 1602.9,812.2 C1591.1,812.4 1581.4,812.5 1571.6,813.3 C1561.8,814.2 1553.3,815.6 1544.2,817.2 C1535.1,818.9 1525.3,820.8 1516.8,823.1 C1508.4,825.4 1500.5,828.1 1493.4,830.9 C1486.2,833.7 1478.7,837.2 1473.8,839.9 C1468.9,842.7 1466.8,845.5 1464.0,847.4 C1461.3,849.3 1459.5,850.4 1457.4,851.3 C1455.2,852.1 1453.2,852.5 1451.1,852.4 C1449.0,852.4 1447.1,851.9 1444.9,850.9 C1442.7,849.9 1440.5,848.5 1437.8,846.6 C1435.2,844.7 1432.6,842.7 1428.8,839.5 C1425.1,836.4 1419.4,830.4 1415.1,827.8 C1410.9,825.2 1407.3,824.2 1403.4,823.9 C1399.5,823.6 1395.6,824.4 1391.7,826.2 C1387.8,828.1 1383.9,830.8 1379.9,834.8 C1376.0,838.9 1371.8,844.0 1368.2,850.5 C1364.6,857.0 1361.7,865.5 1358.4,874.0 C1355.2,882.4 1352.2,892.2 1348.7,901.3 C1345.1,910.5 1340.8,921.7 1336.9,928.7 C1333.0,935.7 1328.5,941.1 1325.2,943.6 C1321.9,946.0 1319.3,946.0 1317.4,943.6 C1315.4,941.1 1314.4,936.4 1313.5,928.7 C1312.5,921.0 1311.8,907.2 1311.5,897.4 C1311.2,887.6 1311.7,879.8 1311.9,870.0 Z" fill="none" stroke="#4F4F4F" stroke-width="4.3" stroke-linejoin="round"/>
<path d="M1312.7,866.1 C1311.8,862.5 1311.9,854.4 1311.9,846.6 C1311.9,838.8 1312.3,829.6 1312.7,819.2 C1313.1,808.8 1313.8,793.8 1314.2,784.0 C1314.7,774.2 1314.9,767.1 1315.4,760.5 C1315.9,754.0 1316.4,749.8 1317.4,744.9 C1318.4,740.0 1319.3,735.1 1321.3,731.2 C1323.2,727.3 1325.8,724.2 1329.1,721.4 C1332.4,718.7 1335.6,716.6 1340.8,714.8 C1346.1,713.0 1352.6,711.7 1360.4,710.5 C1368.2,709.3 1376.7,708.5 1387.8,707.7 C1398.9,707.0 1413.8,706.2 1426.9,705.8 C1439.9,705.3 1455.6,705.7 1466.0,705.0 C1476.4,704.4 1482.3,703.7 1489.5,701.9 C1496.6,700.1 1503.1,698.0 1509.0,694.1 C1514.9,690.1 1519.4,684.9 1524.6,678.4 C1529.9,671.9 1535.1,662.8 1540.3,654.9 C1545.5,647.1 1550.7,638.0 1555.9,631.5 C1561.2,625.0 1566.4,619.9 1571.6,615.8 C1576.8,611.8 1583.3,608.4 1587.2,607.2 C1591.1,606.1 1592.4,606.7 1595.0,608.8 C1597.7,610.9 1600.3,614.7 1602.9,619.8 C1605.5,624.8 1608.1,633.4 1610.7,639.3 C1613.3,645.2 1615.3,650.1 1618.5,654.9 C1621.8,659.8 1626.3,665.1 1630.2,668.6 C1634.2,672.2 1637.4,674.4 1642.0,676.5 C1646.5,678.5 1651.1,680.4 1657.6,681.2 C1664.1,681.9 1674.2,681.0 1681.1,681.2 C1687.9,681.3 1694.8,680.2 1698.7,682.3 C1702.6,684.5 1703.0,687.5 1704.5,694.1 C1706.0,700.6 1707.5,711.7 1707.7,721.4 C1707.8,731.2 1706.2,743.6 1705.3,752.7 C1704.5,761.8 1703.7,770.0 1702.6,776.2 C1701.5,782.4 1701.0,786.1 1698.7,789.9 C1696.4,793.7 1694.4,796.9 1688.9,798.9 C1683.4,800.8 1674.6,800.7 1665.4,801.6 C1656.3,802.5 1644.6,803.5 1634.2,804.3 C1623.7,805.2 1614.6,805.8 1602.9,806.7 C1591.1,807.5 1575.5,808.3 1563.8,809.4 C1552.0,810.5 1541.6,812.0 1532.5,813.3 C1523.3,814.6 1516.8,815.3 1509.0,817.2 C1501.2,819.2 1492.1,821.8 1485.5,825.1 C1479.0,828.3 1474.5,831.9 1469.9,836.8 C1465.3,841.7 1462.1,847.6 1458.2,854.4 C1454.3,861.2 1450.0,869.4 1446.4,877.9 C1442.8,886.3 1439.9,896.1 1436.7,905.2 C1433.4,914.4 1429.5,925.8 1426.9,932.6 C1424.3,939.5 1423.0,943.7 1421.0,946.3 C1419.1,948.9 1417.4,948.9 1415.1,948.3 C1412.9,947.6 1409.9,945.7 1407.3,942.4 C1404.7,939.1 1402.8,934.9 1399.5,928.7 C1396.2,922.5 1391.7,911.8 1387.8,905.2 C1383.9,898.7 1380.6,893.8 1376.0,889.6 C1371.5,885.4 1365.0,882.1 1360.4,879.8 C1355.8,877.5 1353.2,877.2 1348.7,875.9 C1344.1,874.6 1338.2,873.3 1333.0,872.0 C1327.8,870.7 1320.8,869.1 1317.4,868.1 C1314.0,867.1 1313.6,869.7 1312.7,866.1 Z" fill="none" stroke="#4B4BB8" stroke-width="4.3" stroke-linejoin="round" style="mix-blend-mode:multiply"/>
<rect x="1292.7" y="568.8" width="436.5" height="428.9" fill="none" stroke="#222" stroke-width="1.6"/>
<path d="M1292.7,998.2 h7.3 M1729.2,998.2 h-7.3 M1292.7,959.2 h4.3 M1729.2,959.2 h-4.3 M1292.7,920.2 h7.3 M1729.2,920.2 h-7.3 M1292.7,881.2 h4.3 M1729.2,881.2 h-4.3 M1292.7,842.2 h7.3 M1729.2,842.2 h-7.3 M1292.7,803.2 h4.3 M1729.2,803.2 h-4.3 M1292.7,764.2 h7.3 M1729.2,764.2 h-7.3 M1292.7,725.2 h4.3 M1729.2,725.2 h-4.3 M1292.7,686.2 h7.3 M1729.2,686.2 h-7.3 M1292.7,647.2 h4.3 M1729.2,647.2 h-4.3 M1292.7,608.2 h7.3 M1729.2,608.2 h-7.3 M1329.8,997.7 v-3.2 M1366.2,997.7 v-6.9 M1402.5,997.7 v-3.2 M1438.9,997.7 v-6.9 M1475.2,997.7 v-3.2 M1511.6,997.7 v-6.9 M1547.9,997.7 v-3.2 M1584.3,997.7 v-6.9 M1620.6,997.7 v-3.2 M1657.0,997.7 v-6.9 M1693.3,997.7 v-3.2" stroke="#222" stroke-width="1.5" fill="none"/>
<text transform="translate(1282.6,618.9) scale(1,1.070)" font-size="35.5" text-anchor="end" fill="#111">0.02</text>
<text transform="translate(1282.6,696.9) scale(1,1.070)" font-size="35.5" text-anchor="end" fill="#111">0.01</text>
<text transform="translate(1282.6,774.9) scale(1,1.070)" font-size="35.5" text-anchor="end" fill="#111">0.00</text>
<text transform="translate(1282.6,852.9) scale(1,1.070)" font-size="35.5" text-anchor="end" fill="#111">-0.01</text>
<text transform="translate(1282.6,930.9) scale(1,1.070)" font-size="35.5" text-anchor="end" fill="#111">-0.02</text>
<text transform="translate(1282.6,1008.9) scale(1,1.070)" font-size="35.5" text-anchor="end" fill="#111">-0.03</text>
<text transform="translate(1293.5,1035.2) scale(1,1.070)" font-size="35.5" text-anchor="middle" fill="#111">-6</text>
<text transform="translate(1366.2,1035.2) scale(1,1.070)" font-size="35.5" text-anchor="middle" fill="#111">-4</text>
<text transform="translate(1438.9,1035.2) scale(1,1.070)" font-size="35.5" text-anchor="middle" fill="#111">-2</text>
<text transform="translate(1511.6,1035.2) scale(1,1.070)" font-size="35.5" text-anchor="middle" fill="#111">0</text>
<text transform="translate(1584.3,1035.2) scale(1,1.070)" font-size="35.5" text-anchor="middle" fill="#111">2</text>
<text transform="translate(1657.0,1035.2) scale(1,1.070)" font-size="35.5" text-anchor="middle" fill="#111">4</text>
<text transform="translate(1729.7,1035.2) scale(1,1.070)" font-size="35.5" text-anchor="middle" fill="#111">6</text>
<text transform="translate(1424.0,1080.5) scale(1,1.100)" font-size="35.5" text-anchor="start" fill="#111">Voltage (V)</text>
<text transform="translate(1189.3,877.7) rotate(-90)" font-size="31" fill="#5c5c5c" textLength="172.4" lengthAdjust="spacingAndGlyphs">Current (mA)</text>
<text x="1544.5" y="899.6" font-size="30" font-weight="bold" fill="#444" textLength="154.3" lengthAdjust="spacingAndGlyphs">#&#160;of cycles</text>
<rect x="1616.4" y="932.3" width="30.4" height="7.6" fill="#555"/>
<rect x="1616.4" y="965.6" width="30.4" height="7.6" fill="#5050B8"/>
<text x="1663.7" y="938.8" font-size="30" fill="#444">1<tspan font-size="19" dy="-10">st</tspan></text>
<text x="1658.8" y="971.5" font-size="30" fill="#444">10<tspan font-size="19" dy="-9.5">3</tspan></text>
<text x="31" y="552.5" font-size="37" font-weight="bold" fill="#333">c</text>
<g clip-path="url(#afmClip)"><g filter="url(#afmF)">
<rect x="76" y="567" width="447" height="448" fill="#000"/>
<ellipse cx="388.6" cy="597.2" rx="28.0" ry="24.0" fill="#fff" fill-opacity="1.00"/>
<ellipse cx="450.6" cy="630.3" rx="24.0" ry="26.0" fill="#fff" fill-opacity="1.00"/>
<ellipse cx="401.0" cy="671.7" rx="24.0" ry="28.0" fill="#fff" fill-opacity="1.00"/>
<ellipse cx="487.9" cy="700.7" rx="24.0" ry="24.0" fill="#fff" fill-opacity="0.95"/>
<ellipse cx="161.0" cy="613.8" rx="30.0" ry="28.0" fill="#fff" fill-opacity="0.75"/>
<ellipse cx="260.3" cy="597.2" rx="24.0" ry="20.0" fill="#fff" fill-opacity="0.80"/>
<ellipse cx="223.0" cy="651.0" rx="18.0" ry="16.0" fill="#fff" fill-opacity="0.80"/>
<ellipse cx="94.8" cy="725.5" rx="18.0" ry="22.0" fill="#fff" fill-opacity="0.75"/>
<ellipse cx="132.0" cy="824.8" rx="18.0" ry="16.0" fill="#fff" fill-opacity="0.85"/>
<ellipse cx="156.9" cy="870.3" rx="18.0" ry="18.0" fill="#fff" fill-opacity="0.80"/>
<ellipse cx="252.0" cy="878.6" rx="22.0" ry="16.0" fill="#fff" fill-opacity="0.90"/>
<ellipse cx="310.0" cy="833.0" rx="24.0" ry="26.0" fill="#fff" fill-opacity="0.90"/>
<ellipse cx="326.5" cy="775.0" rx="20.0" ry="16.0" fill="#fff" fill-opacity="0.75"/>
<ellipse cx="413.4" cy="783.4" rx="26.0" ry="22.0" fill="#fff" fill-opacity="0.90"/>
<ellipse cx="380.3" cy="866.2" rx="22.0" ry="26.0" fill="#fff" fill-opacity="0.90"/>
<ellipse cx="434.0" cy="845.5" rx="18.0" ry="24.0" fill="#fff" fill-opacity="0.80"/>
<ellipse cx="442.4" cy="957.2" rx="28.0" ry="30.0" fill="#fff" fill-opacity="0.85"/>
<ellipse cx="367.9" cy="924.0" rx="20.0" ry="16.0" fill="#fff" fill-opacity="0.75"/>
<ellipse cx="111.4" cy="936.5" rx="22.0" ry="22.0" fill="#fff" fill-opacity="0.85"/>
<ellipse cx="181.7" cy="969.6" rx="16.0" ry="18.0" fill="#fff" fill-opacity="0.75"/>
<ellipse cx="268.6" cy="957.2" rx="22.0" ry="18.0" fill="#fff" fill-opacity="0.75"/>
<ellipse cx="504.4" cy="928.2" rx="16.0" ry="20.0" fill="#fff" fill-opacity="0.75"/>
<ellipse cx="165.0" cy="998.6" rx="18.0" ry="14.0" fill="#fff" fill-opacity="0.80"/>
<ellipse cx="334.8" cy="990.3" rx="18.0" ry="14.0" fill="#fff" fill-opacity="0.75"/>
<ellipse cx="165.0" cy="742.0" rx="22.0" ry="22.0" fill="#fff" fill-opacity="0.75"/>
<ellipse cx="268.6" cy="833.0" rx="14.0" ry="14.0" fill="#fff" fill-opacity="0.70"/>
<ellipse cx="470.0" cy="870.0" rx="14.0" ry="14.0" fill="#fff" fill-opacity="0.60"/>
</g></g>
<rect x="75.5" y="566.5" width="448" height="449" fill="none" stroke="#444" stroke-width="1.8"/>
<rect x="115.6" y="1046.5" width="155" height="12" fill="url(#cbar)" stroke="#555" stroke-width="1"/>
<text x="86" y="1062.5" font-size="29.5" fill="#444">0</text>
<text x="287.5" y="1062.5" font-size="29.5" fill="#444">1.5 nm</text>
<rect x="430.9" y="1049.8" width="90.2" height="7.7" fill="#1a1a1a"/>
</svg>
</body></html>
